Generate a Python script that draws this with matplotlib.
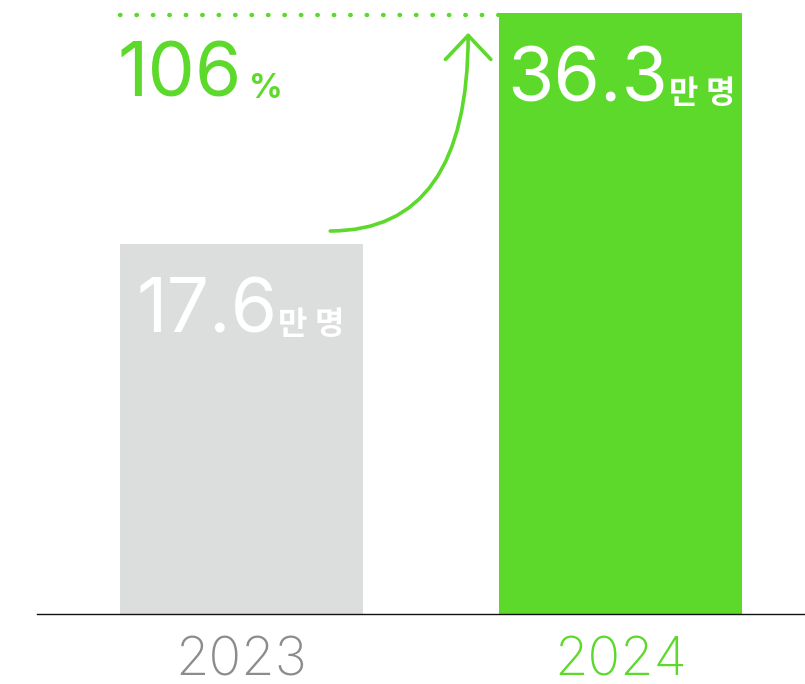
import matplotlib.pyplot as plt

# visitors (10,000 people) per year
years = ['2023', '2024']
visitors = [17.6, 36.3]
growth = 106

green = '#5cd92b'
grey_bar = '#dcdedd'
grey_text = '#8c8c8c'

plt.rcParams['font.family'] = ['Inter', 'Noto Sans CJK KR', 'DejaVu Sans']

fig = plt.figure(figsize=(8.05, 6.84), dpi=100)
ax = fig.add_axes([37 / 805, 70 / 684, 768 / 805, 601 / 684])

# the axis floor sits below zero so the bars read as in the original layout
floor = -12.36
ax.set_ylim(floor, visitors[1])
ax.set_xlim(-0.54, 1.487)

x = range(len(years))
heights = [v - floor for v in visitors]
ax.bar(x, heights, bottom=floor, width=0.641, color=[grey_bar, green])

for s in ['top', 'right', 'left']:
    ax.spines[s].set_visible(False)
ax.spines['bottom'].set_linewidth(1.0)
ax.spines['bottom'].set_color('#111111')
ax.set_yticks([])
ax.set_xticks(list(x))
ax.set_xticklabels(years, fontsize=39, fontweight='light')
ax.tick_params(axis='x', length=0, pad=16)
for lbl, c in zip(ax.get_xticklabels(), [grey_text, green]):
    lbl.set_color(c)

half = 0.641 / 2
px = 0.72  # pixels -> points
renderer = fig.canvas.get_renderer()


def big_with_unit(xy, num, unit, dx, dy, color, num_size=54, unit_size=23, gap=0):
    # big number, then the small unit right after it on the same baseline
    t = ax.annotate(num, xy=xy, xytext=(dx * px, dy * px),
                    textcoords='offset points', fontsize=num_size, color=color,
                    ha='left', va='baseline')
    bb = t.get_window_extent(renderer)
    bx, by = ax.transData.transform(xy)
    ax.annotate(unit, xy=(bb.x1 + gap, by + dy - 1), xycoords='figure pixels',
                fontsize=unit_size, color=color, ha='left', va='baseline',
                fontweight='bold')


big_with_unit((0 - half, visitors[0]), f'{visitors[0]:.1f}', '만 명', 16, -89, 'white', gap=1)
big_with_unit((1 - half, visitors[1]), f'{visitors[1]:.1f}', '만 명', 8, -89, 'white', gap=1)

# growth rate
big_with_unit((0 - half, visitors[1]), f'{growth}', '%', -3, -84, green,
              unit_size=24, gap=7)

# dotted guide at the 2024 level
ax.plot([0 - half, 1 - half], [visitors[1] - 0.15] * 2, linestyle=(0, (0.1, 3.6)),
        color=green, linewidth=3.2, dash_capstyle='round', clip_on=False)

# curved growth arrow
ax.annotate('', xy=(0.598, visitors[1] - 1.6), xytext=(0.234, visitors[0] + 1.05),
            arrowprops=dict(arrowstyle='->,head_length=0.72,head_width=0.68',
                            mutation_scale=24,
                            connectionstyle='angle3,angleA=0,angleB=90',
                            color=green, linewidth=2.6, shrinkA=0, shrinkB=0))

fig.savefig('out.png', dpi=100)
